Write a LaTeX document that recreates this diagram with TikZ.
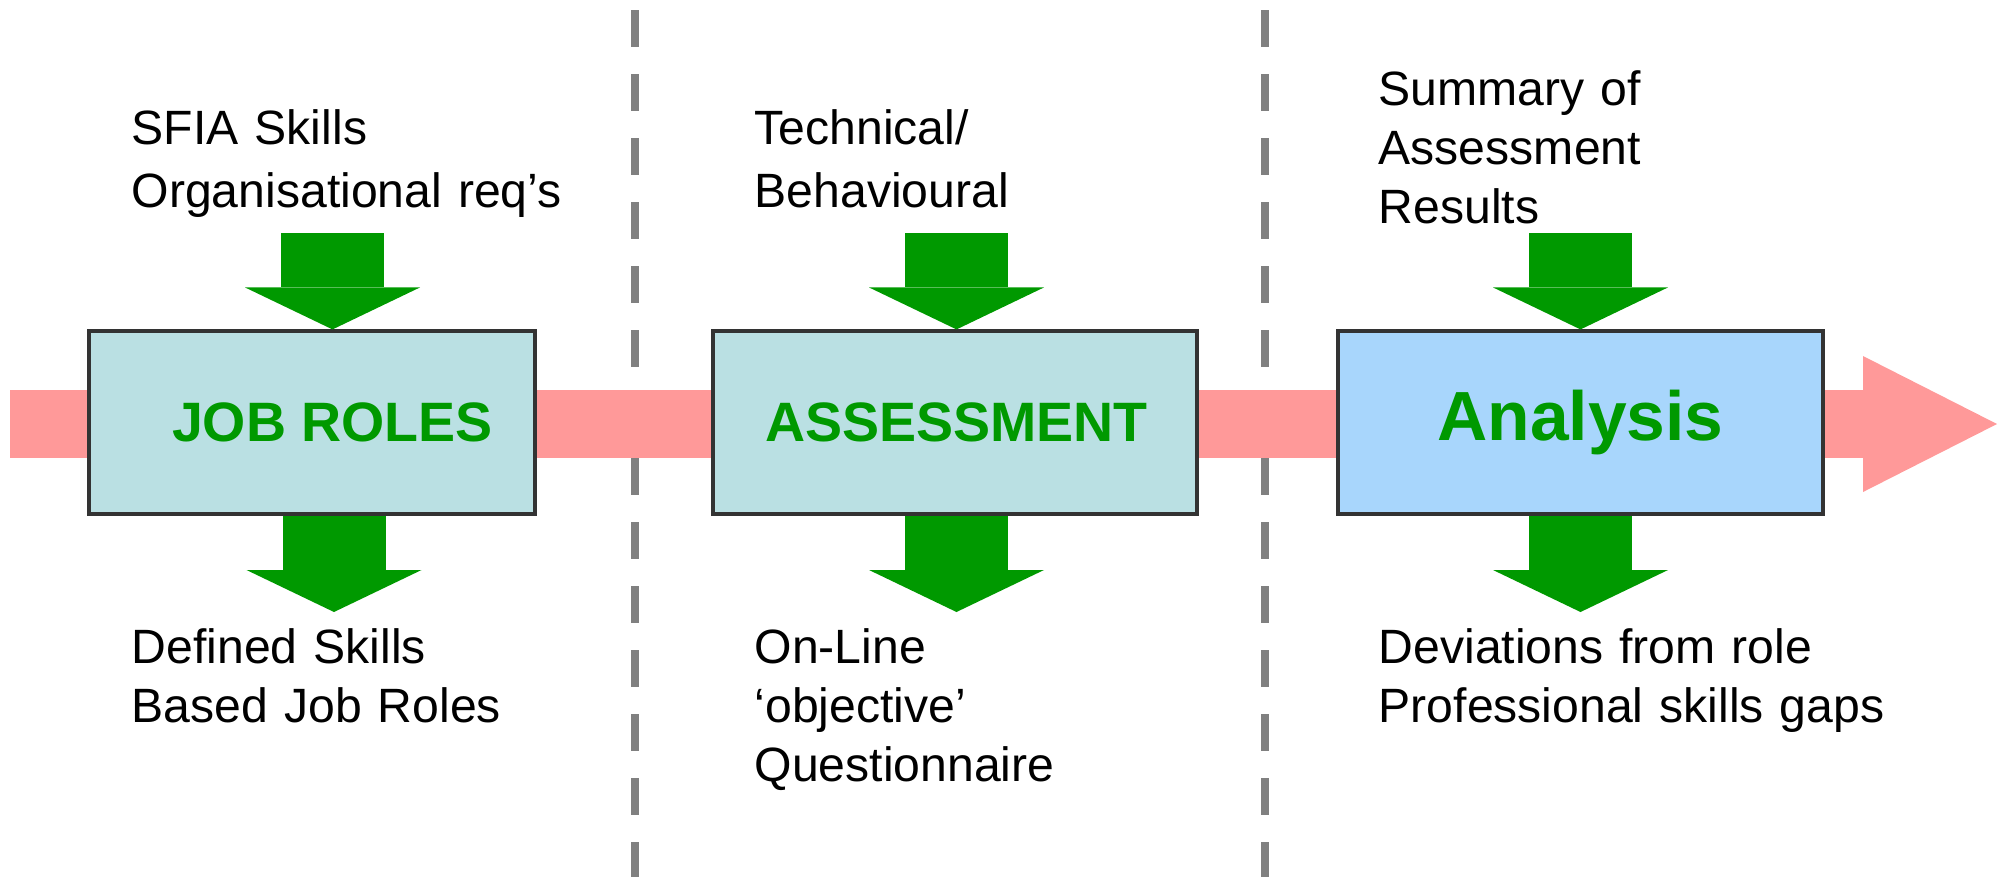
\documentclass[tikz,border=0pt]{standalone}
\usepackage{fontspec}
\setmainfont{Liberation Sans}
\usetikzlibrary{arrows.meta}

\definecolor{flowgreen}{RGB}{0,153,0}
\definecolor{bandpink}{RGB}{255,153,153}
\definecolor{roleteal}{RGB}{186,224,227}
\definecolor{analysisblue}{RGB}{168,214,252}
\definecolor{dividergray}{RGB}{128,128,128}

\begin{document}
\begin{tikzpicture}
    \tikzset { stage/.style = { shape=rectangle,draw=black!80,line width=0.9pt,fill=roleteal,minimum height=1.83cm } }
    \tikzset { stagetext/.style = { text=flowgreen,font=\bfseries\fontsize{15.8}{18}\selectfont } }
    \tikzset { note/.style = { anchor=base west,inner sep=0pt,text width=6cm,align=left,font=\fontsize{13.7}{16.9}\selectfont } }
    \tikzset { feed/.style = { line width=1.03cm,draw=flowgreen,-{Triangle[width=1.75cm,length=0.42cm,line width=0pt]} } }
    \tikzset { band/.style = { line width=0.68cm,draw=bandpink,-{Triangle[width=1.36cm,length=1.34cm,line width=0pt]} } }
    \tikzset { divider/.style = { line width=0.08cm,draw=dividergray,dash pattern=on 0.37cm off 0.27cm } }

    \useasboundingbox (0,0) rectangle (20,-8.77);

    \draw[divider] (6.35,-0.10) -- (6.35,-8.77);
    \draw[divider] (12.65,-0.10) -- (12.65,-8.77);

    \coordinate (start) at (0.10,-4.24);
    \coordinate (finish) at (19.97,-4.24);
    \draw[band] (start) -- (finish);

    \coordinate (in1) at (3.325,-2.33);
    \coordinate (in2) at (9.565,-2.33);
    \coordinate (in3) at (15.805,-2.33);
    \coordinate (out1) at (3.34,-6.12);
    \coordinate (out2) at (9.565,-6.12);
    \coordinate (out3) at (15.805,-6.12);

    \node[stage,minimum width=4.46cm] (roles) at (3.12,-4.225) {};
    \node[stage,minimum width=4.84cm] (assess) at (9.55,-4.225) {};
    \node[stage,minimum width=4.85cm,fill=analysisblue] (analysis) at (15.805,-4.225) {};

    \node[stagetext] (rolestext) at (in1 |- roles) {JOB ROLES};
    \node[stagetext] (assesstext) at (in2 |- assess) {ASSESSMENT};
    \node[stagetext,font=\bfseries\fontsize{19.8}{24}\selectfont] (analysistext) at (in3 |- analysis) {Analysis};

    \node[note,font=\fontsize{13.7}{18.1}\selectfont] (sfia) at (1.31,-1.44) {SFIA Skills\\Organisational req’s};
    \node[note,font=\fontsize{13.7}{18.1}\selectfont] (tech) at (7.54,-1.44) {Technical/\\Behavioural};
    \node[note] (summary) at (13.78,-1.05) {Summary of\\Assessment\\Results};

    \node[note] (defined) at (1.31,-6.63) {Defined Skills\\Based Job Roles};
    \node[note] (online) at (7.54,-6.63) {On-Line\\‘objective’\\Questionnaire};
    \node[note] (gaps) at (13.78,-6.63) {Deviations from role\\Professional skills gaps};

    \draw[feed] (in1) -- (in1 |- roles.north);
    \draw[feed] (in2) -- (in2 |- assess.north);
    \draw[feed] (in3) -- (in3 |- analysis.north);
    \draw[feed] (out1 |- roles.south) -- (out1);
    \draw[feed] (out2 |- assess.south) -- (out2);
    \draw[feed] (out3 |- analysis.south) -- (out3);
\end{tikzpicture}
\end{document}
